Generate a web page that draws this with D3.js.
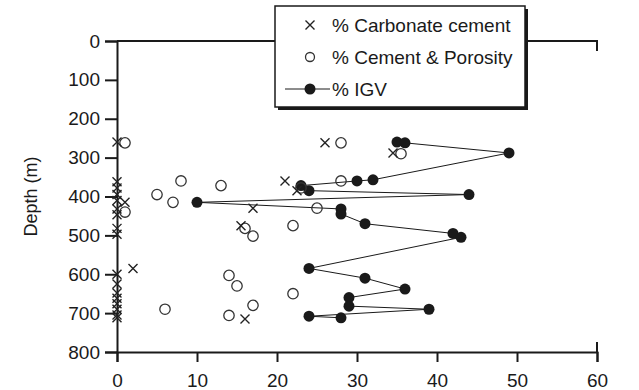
<!DOCTYPE html>
<html>
<head>
<meta charset="utf-8">
<script src="https://cdn.jsdelivr.net/npm/d3@7/dist/d3.min.js"></script>
<style>
  html, body { margin: 0; padding: 0; background: #fff; }
  svg { display: block; }
  text { font-family: "Liberation Sans", Arial, Helvetica, sans-serif; fill: #1a1a1a; }
</style>
</head>
<body>
<svg id="chart" width="639" height="390"></svg>
<script>
// Depth profile: carbonate cement, cement + porosity and intergranular volume (IGV)
const xTicks = [0, 10, 20, 30, 40, 50, 60];
const yTicks = [0, 100, 200, 300, 400, 500, 600, 700, 800];

// % Carbonate cement: [percent, depth m]
const carbonateCement = [
  [0, 260], [0, 362], [0, 378], [0, 395], [0, 410], [0, 432], [0, 447],
  [0, 482], [0, 497], [0, 600], [0, 625], [0, 648], [0, 662], [0, 676],
  [0, 690], [0, 705], [0, 712],
  [1, 415], [2, 585], [15.5, 475], [16, 715], [17, 430],
  [21, 360], [22.5, 385], [26, 262], [34.5, 288]
];

// % Cement & Porosity: [percent, depth m]
const cementPorosity = [
  [1, 262], [1, 440], [5, 395], [7, 415], [8, 360], [13, 372],
  [16, 482], [17, 502], [22, 475], [23, 378], [25, 430],
  [28, 262], [28, 360], [35.5, 290],
  [14, 603], [15, 630], [22, 650], [17, 680], [6, 690], [14, 706]
];

// % IGV, ordered by depth: [percent, depth m]
const igv = [
  [35, 260], [36, 262], [49, 288], [32, 357], [30, 360], [23, 372],
  [24, 385], [44, 395], [10, 415], [28, 432], [28, 445], [31, 470],
  [42, 495], [43, 505], [24, 585], [31, 610], [36, 638], [29, 660],
  [29, 682], [39, 690], [24, 708], [28, 712]
];

const svg = d3.select("#chart");
const x = d3.scaleLinear().domain([0, 60]).range([117, 597]);
const y = d3.scaleLinear().domain([0, 800]).range([41, 352]);

const ink = "#1a1a1a";

// frame stubs (top line and corner ticks)
svg.append("line").attr("x1", x(0)).attr("x2", x(60)).attr("y1", y(0)).attr("y2", y(0))
  .attr("stroke", ink).attr("stroke-width", 2);
svg.append("line").attr("x1", x(60)).attr("x2", x(60)).attr("y1", y(0) - 1).attr("y2", y(0) + 10)
  .attr("stroke", ink).attr("stroke-width", 2);
svg.append("line").attr("x1", x(60)).attr("x2", x(60)).attr("y1", y(800) - 10).attr("y2", y(800))
  .attr("stroke", ink).attr("stroke-width", 2);

// axes
const xAxis = svg.append("g").attr("transform", `translate(0,${y(800)})`)
  .call(d3.axisBottom(x).tickValues(xTicks).tickSize(10).tickPadding(12).tickFormat(d3.format("d")));
const yAxis = svg.append("g").attr("transform", `translate(${x(0)},0)`)
  .call(d3.axisLeft(y).tickValues(yTicks).tickSize(12).tickPadding(5).tickFormat(d3.format("d")));
[xAxis, yAxis].forEach(g => {
  g.select(".domain").attr("stroke", ink).attr("stroke-width", 2);
  g.selectAll(".tick line").attr("stroke", ink).attr("stroke-width", 2);
  g.selectAll(".tick text").attr("font-size", 19).attr("fill", ink)
    .style("font-family", '"Liberation Sans", Arial, sans-serif');
});
xAxis.selectAll(".tick text").attr("dy", "0.71em");

svg.append("text")
  .attr("transform", `translate(37,${(y(0) + y(800)) / 2}) rotate(-90)`)
  .attr("text-anchor", "middle")
  .attr("font-size", 18)
  .text("Depth (m)");

// marker helpers
const crossPath = (cx, cy, s) =>
  `M${cx - s},${cy - s}L${cx + s},${cy + s}M${cx - s},${cy + s}L${cx + s},${cy - s}`;

// IGV line + dots
svg.append("path")
  .datum(igv)
  .attr("fill", "none")
  .attr("stroke", ink)
  .attr("stroke-width", 1)
  .attr("d", d3.line().x(d => x(d[0])).y(d => y(d[1])));

svg.append("g").selectAll("circle").data(igv).join("circle")
  .attr("cx", d => x(d[0])).attr("cy", d => y(d[1])).attr("r", 5.5)
  .attr("fill", ink);

// cement & porosity circles
svg.append("g").selectAll("circle").data(cementPorosity).join("circle")
  .attr("cx", d => x(d[0])).attr("cy", d => y(d[1])).attr("r", 5.2)
  .attr("fill", "none").attr("stroke", "#333").attr("stroke-width", 1.3);

// carbonate cement crosses
svg.append("g").selectAll("path").data(carbonateCement).join("path")
  .attr("d", d => crossPath(x(d[0]), y(d[1]), 4.5))
  .attr("fill", "none").attr("stroke", "#222").attr("stroke-width", 1.4);

// legend
const lg = svg.append("g");
const bx = 275, by = 6, bw = 250, bh = 101;
lg.append("rect").attr("x", bx + 3).attr("y", by + 3).attr("width", bw).attr("height", bh)
  .attr("fill", ink);
lg.append("rect").attr("x", bx).attr("y", by).attr("width", bw).attr("height", bh)
  .attr("fill", "#fff").attr("stroke", ink).attr("stroke-width", 1.5);

const rows = [
  { label: "% Carbonate cement", cy: 25, kind: "cross" },
  { label: "% Cement & Porosity", cy: 57, kind: "circle" },
  { label: "% IGV", cy: 89, kind: "igv" }
];
const mx = 310;
rows.forEach(r => {
  if (r.kind === "cross") {
    lg.append("path").attr("d", crossPath(mx, r.cy, 4.5))
      .attr("stroke", "#222").attr("stroke-width", 1.4).attr("fill", "none");
  } else if (r.kind === "circle") {
    lg.append("circle").attr("cx", mx).attr("cy", r.cy).attr("r", 4.5)
      .attr("fill", "none").attr("stroke", "#333").attr("stroke-width", 1.3);
  } else {
    lg.append("line").attr("x1", 285).attr("x2", 330).attr("y1", r.cy).attr("y2", r.cy)
      .attr("stroke", ink).attr("stroke-width", 1);
    lg.append("circle").attr("cx", mx).attr("cy", r.cy).attr("r", 5.5).attr("fill", ink);
  }
  lg.append("text").attr("x", 332).attr("y", r.cy).attr("dy", "0.35em")
    .attr("font-size", 19).text(r.label);
});
</script>
</body>
</html>
